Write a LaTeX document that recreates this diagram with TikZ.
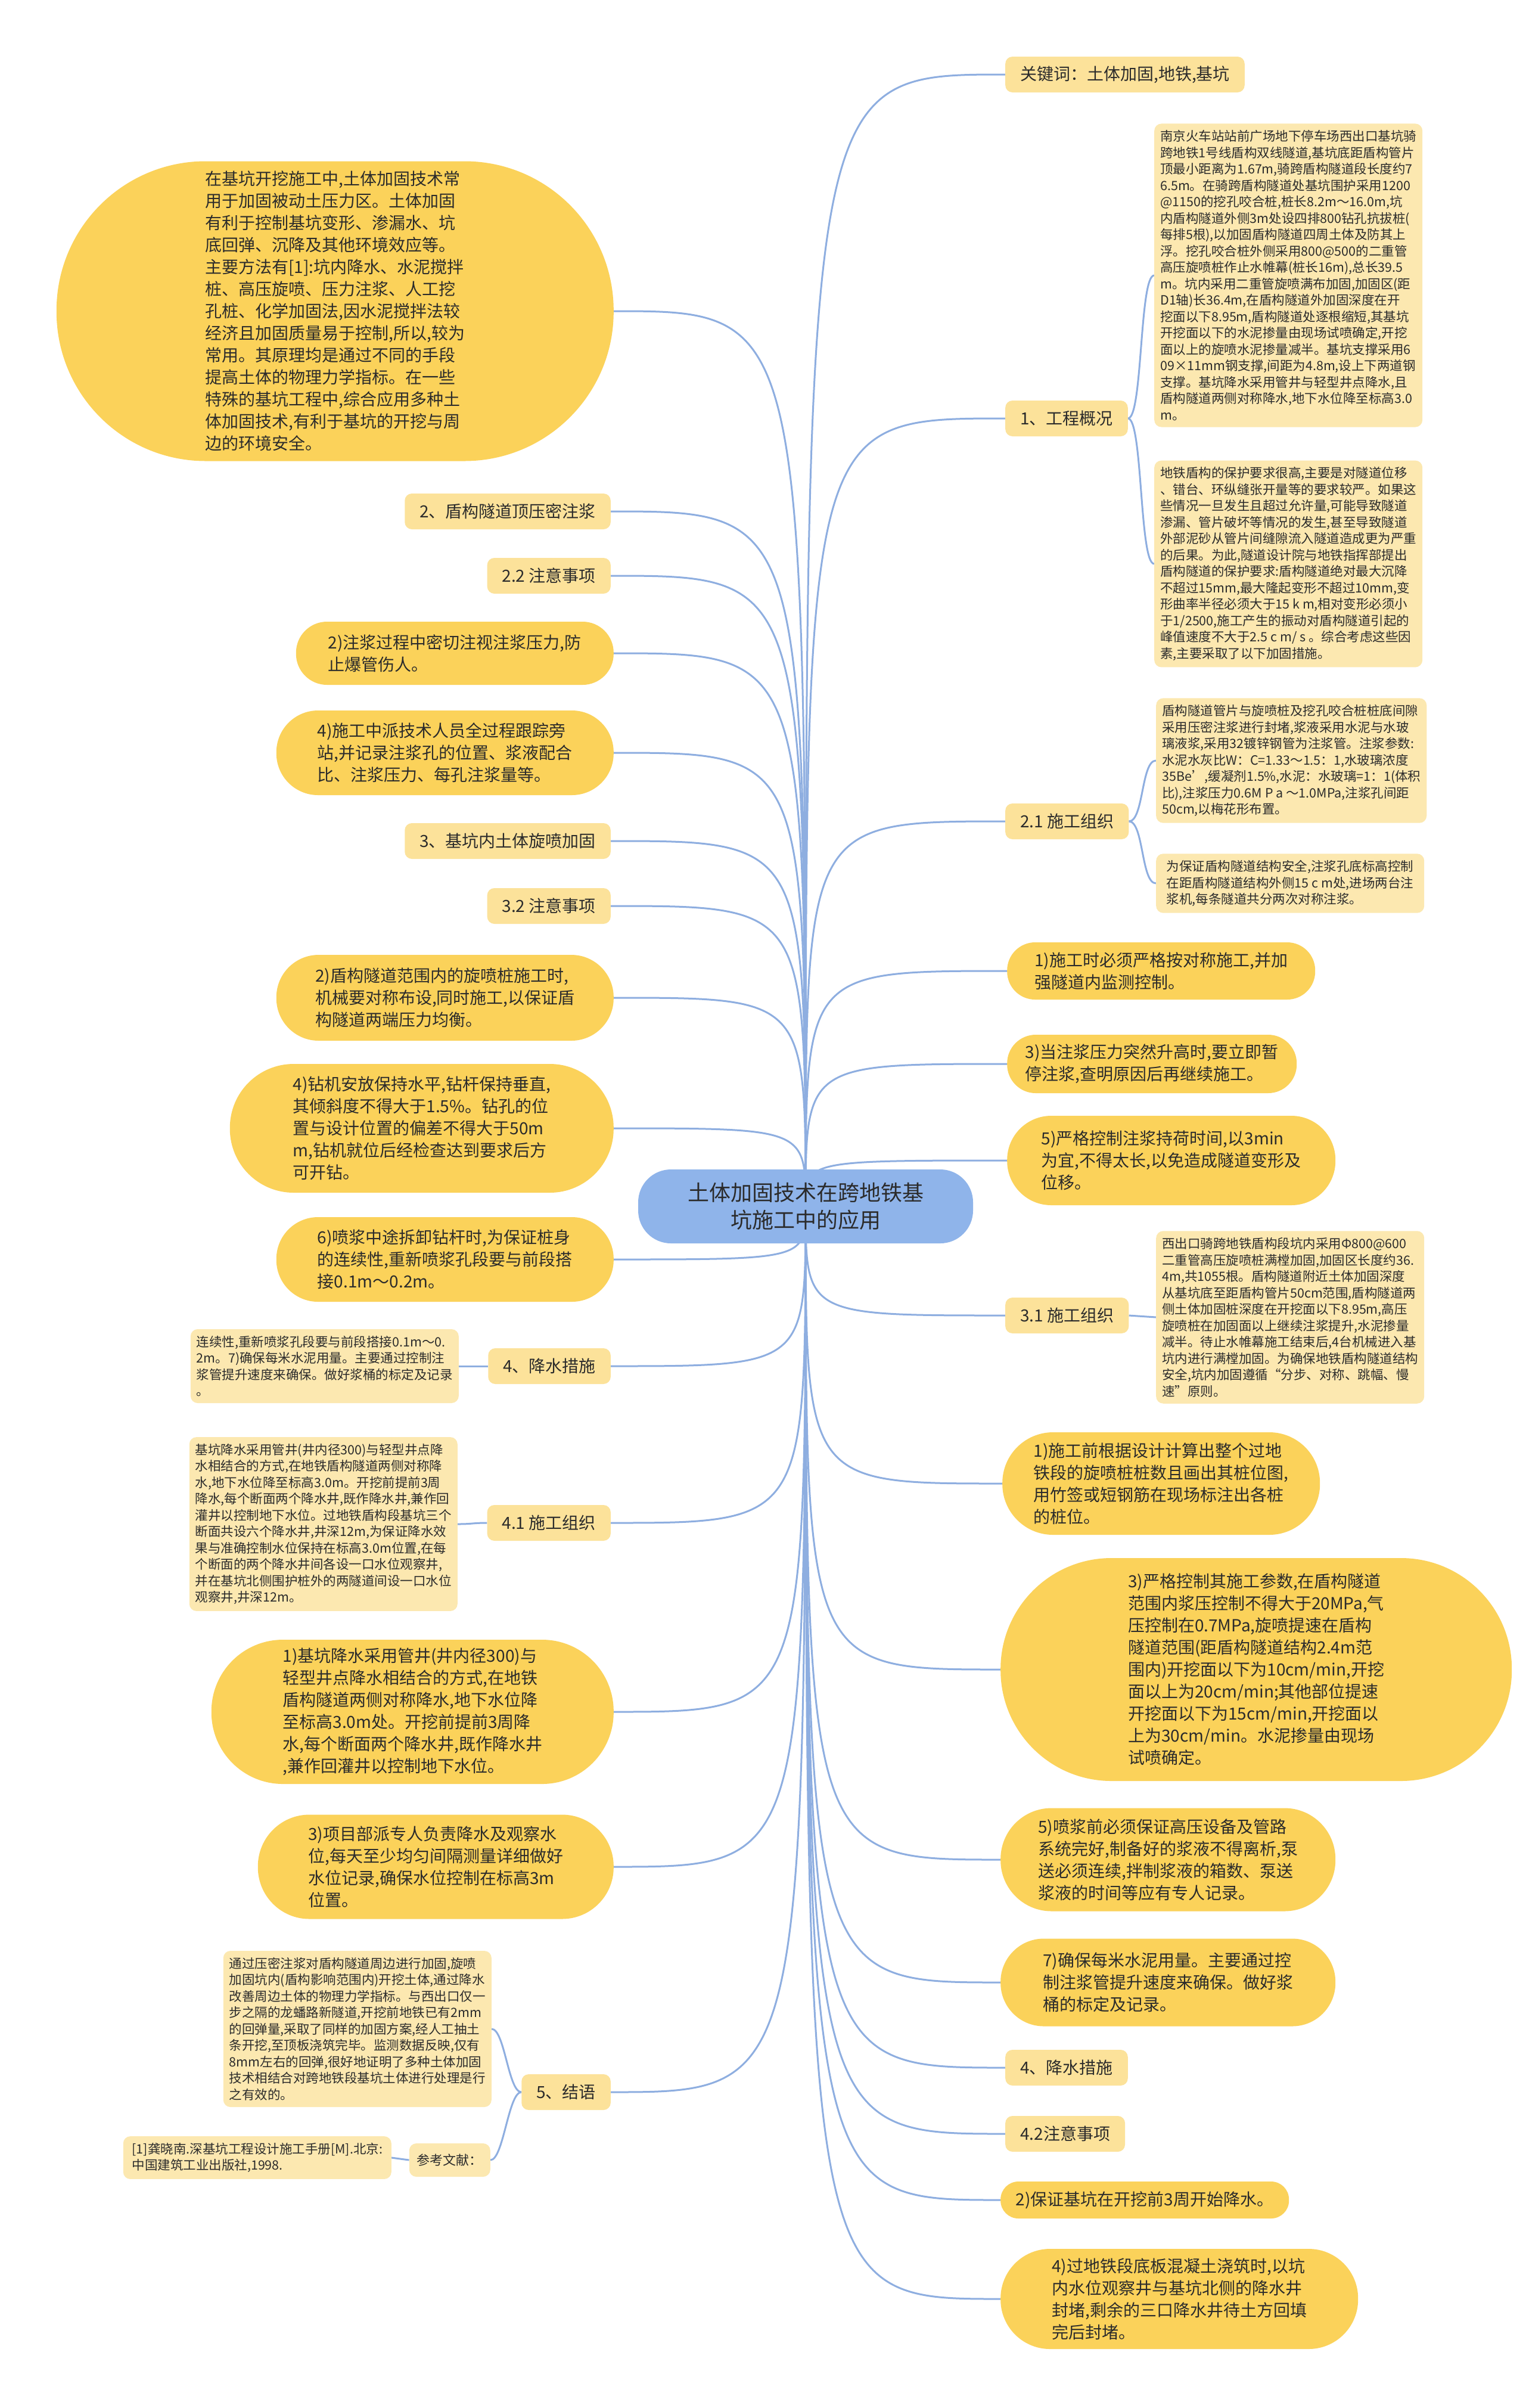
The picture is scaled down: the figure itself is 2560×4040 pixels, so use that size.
\documentclass[tikz,border=0pt]{standalone}
\usepackage{fontspec}
\setmainfont{Noto Sans CJK SC}
\usepackage{tikz}
\usetikzlibrary{positioning, backgrounds}
\definecolor{topicblue}{HTML}{8FB4EA}
\definecolor{linkblue}{HTML}{8EAEE0}
\definecolor{bubblefill}{HTML}{FBD25A}
\definecolor{tagfill}{HTML}{FCE29A}
\definecolor{notefill}{HTML}{FCE8B0}
\definecolor{ink}{HTML}{2B2B2B}

\tikzset{
  link/.style={draw=linkblue, line width=3pt},
  topic/.style={fill=topicblue, rounded corners=55, text=ink, align=center,
    minimum width=562, minimum height=124, font=\fontsize{36}{46}\selectfont},
  tag/.style={fill=tagfill, rounded corners=12, text=ink, minimum height=60,
    inner xsep=25, font=\fontsize{28}{34}\selectfont},
  bub/.style 2 args={fill=bubblefill, text=ink, align=left, minimum width=#1,
    minimum height=#2, rounded corners=0.5*#2-1, font=\fontsize{28}{37}\selectfont},
  note/.style={fill=notefill, text=ink, align=left, minimum width=450, inner xsep=10,
    inner ysep=11, rounded corners=12, font=\fontsize{21.5}{27.5}\selectfont}
}

\begin{document}
\begin{tikzpicture}[x=1pt, y=-1pt]
\useasboundingbox (0,0) rectangle (2560,4040);

% Centre
\node[topic] (ctr) at (1352,2024) {土体加固技术在跨地铁基\\坑施工中的应用};

% Right branches
\node[tag, anchor=west] (kw) at (1687,125) {关键词：土体加固,地铁,基坑};
\node[tag, anchor=west] (gk) at (1687,702) {1、工程概况};
\node[note, anchor=west] (gkA) at (1937,462) {南京火车站站前广场地下停车场西出口基坑骑\\跨地铁1号线盾构双线隧道,基坑底距盾构管片\\顶最小距离为1.67m,骑跨盾构隧道段长度约7\\6.5m。在骑跨盾构隧道处基坑围护采用1200\\@1150的挖孔咬合桩,桩长8.2m～16.0m,坑\\内盾构隧道外侧3m处设四排800钻孔抗拔桩(\\每排5根),以加固盾构隧道四周土体及防其上\\浮。挖孔咬合桩外侧采用800@500的二重管\\高压旋喷桩作止水帷幕(桩长16m),总长39.5\\m。坑内采用二重管旋喷满布加固,加固区(距\\D1轴)长36.4m,在盾构隧道外加固深度在开\\挖面以下8.95m,盾构隧道处逐根缩短,其基坑\\开挖面以下的水泥掺量由现场试喷确定,开挖\\面以上的旋喷水泥掺量减半。基坑支撑采用6\\09×11mm钢支撑,间距为4.8m,设上下两道钢\\支撑。基坑降水采用管井与轻型井点降水,且\\盾构隧道两侧对称降水,地下水位降至标高3.0\\m。};
\node[note, anchor=west] (gkB) at (1937,946) {地铁盾构的保护要求很高,主要是对隧道位移\\、错台、环纵缝张开量等的要求较严。如果这\\些情况一旦发生且超过允许量,可能导致隧道\\渗漏、管片破坏等情况的发生,甚至导致隧道\\外部泥砂从管片间缝隙流入隧道造成更为严重\\的后果。为此,隧道设计院与地铁指挥部提出\\盾构隧道的保护要求:盾构隧道绝对最大沉降\\不超过15mm,最大隆起变形不超过10mm,变\\形曲率半径必须大于15 k m,相对变形必须小\\于1/2500,施工产生的振动对盾构隧道引起的\\峰值速度不大于2.5 c m/ s 。综合考虑这些因\\素,主要采取了以下加固措施。};
\node[tag, anchor=west] (zz21) at (1687,1378) {2.1 施工组织};
\node[note, anchor=west] (zzA) at (1940,1276) {盾构隧道管片与旋喷桩及挖孔咬合桩桩底间隙\\采用压密注浆进行封堵,浆液采用水泥与水玻\\璃液浆,采用32镀锌钢管为注浆管。注浆参数:\\水泥水灰比W：C=1.33～1.5：1,水玻璃浓度\\35Be',缓凝剂1.5\%,水泥：水玻璃=1：1(体积\\比),注浆压力0.6M P a ～1.0MPa,注浆孔间距\\50cm,以梅花形布置。};
\node[note, anchor=west] (zzB) at (1940,1482) {为保证盾构隧道结构安全,注浆孔底标高控制\\在距盾构隧道结构外侧15 c m处,进场两台注\\浆机,每条隧道共分两次对称注浆。};
\node[bub={517}{96}, anchor=west] (r4) at (1690,1629) {1)施工时必须严格按对称施工,并加\\强隧道内监测控制。};
\node[bub={486}{98}, anchor=west] (r5) at (1690,1785) {3)当注浆压力突然升高时,要立即暂\\停注浆,查明原因后再继续施工。};
\node[bub={551}{150}, anchor=west] (r6) at (1690,1947) {5)严格控制注浆持荷时间,以3min\\为宜,不得太长,以免造成隧道变形及\\位移。};
\node[tag, anchor=west] (zz31) at (1687,2207) {3.1 施工组织};
\node[note, anchor=west] (zzC) at (1940,2210) {西出口骑跨地铁盾构段坑内采用Φ800@600\\二重管高压旋喷桩满樘加固,加固区长度约36.\\4m,共1055根。盾构隧道附近土体加固深度\\从基坑底至距盾构管片50cm范围,盾构隧道两\\侧土体加固桩深度在开挖面以下8.95m,高压\\旋喷桩在加固面以上继续注浆提升,水泥掺量\\减半。待止水帷幕施工结束后,4台机械进入基\\坑内进行满樘加固。为确保地铁盾构隧道结构\\安全,坑内加固遵循“分步、对称、跳幅、慢\\速”原则。};
\node[bub={533}{172}, anchor=west] (r8) at (1682,2489) {1)施工前根据设计计算出整个过地\\铁段的旋喷桩桩数且画出其桩位图,\\用竹签或短钢筋在现场标注出各桩\\的桩位。};
\node[bub={858}{374}, anchor=west] (r9) at (1679,2801) {3)严格控制其施工参数,在盾构隧道\\范围内浆压控制不得大于20MPa,气\\压控制在0.7MPa,旋喷提速在盾构\\隧道范围(距盾构隧道结构2.4m范\\围内)开挖面以下为10cm/min,开挖\\面以上为20cm/min;其他部位提速\\开挖面以下为15cm/min,开挖面以\\上为30cm/min。水泥掺量由现场\\试喷确定。};
\node[bub={562}{173}, anchor=west] (r10) at (1679,3120) {5)喷浆前必须保证高压设备及管路\\系统完好,制备好的浆液不得离析,泵\\送必须连续,拌制浆液的箱数、泵送\\浆液的时间等应有专人记录。};
\node[bub={562}{147}, anchor=west] (r11) at (1679,3326) {7)确保每米水泥用量。主要通过控\\制注浆管提升速度来确保。做好浆\\桶的标定及记录。};
\node[tag, anchor=west] (js42) at (1687,3469) {4、降水措施};
\node[tag, anchor=west] (zy42) at (1687,3580) {4.2注意事项};
\node[bub={484}{62}, anchor=west] (r14) at (1679,3691) {2)保证基坑在开挖前3周开始降水。};
\node[bub={600}{168}, anchor=west] (r15) at (1679,3857) {4)过地铁段底板混凝土浇筑时,以坑\\内水位观察井与基坑北侧的降水井\\封堵,剩余的三口降水井待土方回填\\完后封堵。};

% Left branches
\node[bub={935}{503}, anchor=east] (l1) at (1030,522) {在基坑开挖施工中,土体加固技术常\\用于加固被动土压力区。土体加固\\有利于控制基坑变形、渗漏水、坑\\底回弹、沉降及其他环境效应等。\\主要方法有[1]:坑内降水、水泥搅拌\\桩、高压旋喷、压力注浆、人工挖\\孔桩、化学加固法,因水泥搅拌法较\\经济且加固质量易于控制,所以,较为\\常用。其原理均是通过不同的手段\\提高土体的物理力学指标。在一些\\特殊的基坑工程中,综合应用多种土\\体加固技术,有利于基坑的开挖与周\\边的环境安全。};
\node[tag, anchor=east] (yj) at (1025,858) {2、盾构隧道顶压密注浆};
\node[tag, anchor=east] (zy22) at (1025,966) {2.2 注意事项};
\node[bub={533}{106}, anchor=east] (l4) at (1030,1096) {2)注浆过程中密切注视注浆压力,防\\止爆管伤人。};
\node[bub={566}{142}, anchor=east] (l5) at (1030,1263) {4)施工中派技术人员全过程跟踪旁\\站,并记录注浆孔的位置、浆液配合\\比、注浆压力、每孔注浆量等。};
\node[tag, anchor=east] (xp) at (1025,1411) {3、基坑内土体旋喷加固};
\node[tag, anchor=east] (zy32) at (1025,1520) {3.2 注意事项};
\node[bub={566}{144}, anchor=east] (l8) at (1030,1674) {2)盾构隧道范围内的旋喷桩施工时,\\机械要对称布设,同时施工,以保证盾\\构隧道两端压力均衡。};
\node[bub={644}{216}, anchor=east] (l9) at (1030,1893) {4)钻机安放保持水平,钻杆保持垂直,\\其倾斜度不得大于1.5\%。钻孔的位\\置与设计位置的偏差不得大于50m\\m,钻机就位后经检查达到要求后方\\可开钻。};
\node[bub={566}{142}, anchor=east] (l10) at (1030,2113) {6)喷浆中途拆卸钻杆时,为保证桩身\\的连续性,重新喷浆孔段要与前段搭\\接0.1m～0.2m。};
\node[tag, anchor=east] (js4) at (1025,2292) {4、降水措施};
\node[note, anchor=east] (jsA) at (770,2292) {连续性,重新喷浆孔段要与前段搭接0.1m～0.\\2m。7)确保每米水泥用量。主要通过控制注\\浆管提升速度来确保。做好浆桶的标定及记录\\。};
\node[tag, anchor=east] (zz41) at (1025,2555) {4.1 施工组织};
\node[note, anchor=east] (zzD) at (768,2557) {基坑降水采用管井(井内径300)与轻型井点降\\水相结合的方式,在地铁盾构隧道两侧对称降\\水,地下水位降至标高3.0m。开挖前提前3周\\降水,每个断面两个降水井,既作降水井,兼作回\\灌井以控制地下水位。过地铁盾构段基坑三个\\断面共设六个降水井,井深12m,为保证降水效\\果与准确控制水位保持在标高3.0m位置,在每\\个断面的两个降水井间各设一口水位观察井,\\并在基坑北侧围护桩外的两隧道间设一口水位\\观察井,井深12m。};
\node[bub={675}{242}, anchor=east] (l13) at (1030,2872) {1)基坑降水采用管井(井内径300)与\\轻型井点降水相结合的方式,在地铁\\盾构隧道两侧对称降水,地下水位降\\至标高3.0m处。开挖前提前3周降\\水,每个断面两个降水井,既作降水井\\,兼作回灌井以控制地下水位。};
\node[bub={597}{175}, anchor=east] (l14) at (1030,3132) {3)项目部派专人负责降水及观察水\\位,每天至少均匀间隔测量详细做好\\水位记录,确保水位控制在标高3m\\位置。};
\node[tag, anchor=east] (jy) at (1025,3510) {5、结语};
\node[note, anchor=east] (jyA) at (825,3404) {通过压密注浆对盾构隧道周边进行加固,旋喷\\加固坑内(盾构影响范围内)开挖土体,通过降水\\改善周边土体的物理力学指标。与西出口仅一\\步之隔的龙蟠路新隧道,开挖前地铁已有2mm\\的回弹量,采取了同样的加固方案,经人工抽土\\条开挖,至顶板浇筑完毕。监测数据反映,仅有\\8mm左右的回弹,很好地证明了多种土体加固\\技术相结合对跨地铁段基坑土体进行处理是行\\之有效的。};
\node[tag, anchor=east, fill=notefill, minimum height=56, inner xsep=13,
  font=\fontsize{22}{26}\selectfont] (ckwx) at (823,3624) {参考文献：};
\node[note, anchor=east] (ckA) at (657,3620) {[1]龚晓南.深基坑工程设计施工手册[M].北京:\\中国建筑工业出版社,1998.};

% Connectors
\begin{scope}[on background layer]
\fill[white] (0,0) rectangle (2560,4040);
\foreach \n in {kw,gk,zz21,r4,r5,r6,zz31,r8,r9,r10,r11,js42,zy42,r14,r15}
  \draw[link] (ctr.center) .. controls (ctr.center |- \n.west) .. (\n.west);
\foreach \n in {l1,yj,zy22,l4,l5,xp,zy32,l8,l9,l10,js4,zz41,l13,l14,jy}
  \draw[link] (ctr.center) .. controls (ctr.center |- \n.east) .. (\n.east);
\draw[link] (gk.east) .. controls +(25,0) and +(-25,0) .. (gkA.west);
\draw[link] (gk.east) .. controls +(25,0) and +(-25,0) .. (gkB.west);
\draw[link] (zz21.east) .. controls +(25,0) and +(-25,0) .. (zzA.west);
\draw[link] (zz21.east) .. controls +(25,0) and +(-25,0) .. (zzB.west);
\draw[link] (zz31.east) -- (zzC.west);
\draw[link] (js4.west) -- (jsA.east);
\draw[link] (zz41.west) .. controls +(-25,0) and +(25,0) .. (zzD.east);
\draw[link] (jy.west) .. controls +(-22,0) and +(22,0) .. (jyA.east);
\draw[link] (jy.west) .. controls +(-22,0) and +(22,0) .. (ckwx.east);
\draw[link] (ckwx.west) -- (ckA.east);
\end{scope}
\end{tikzpicture}
\end{document}
